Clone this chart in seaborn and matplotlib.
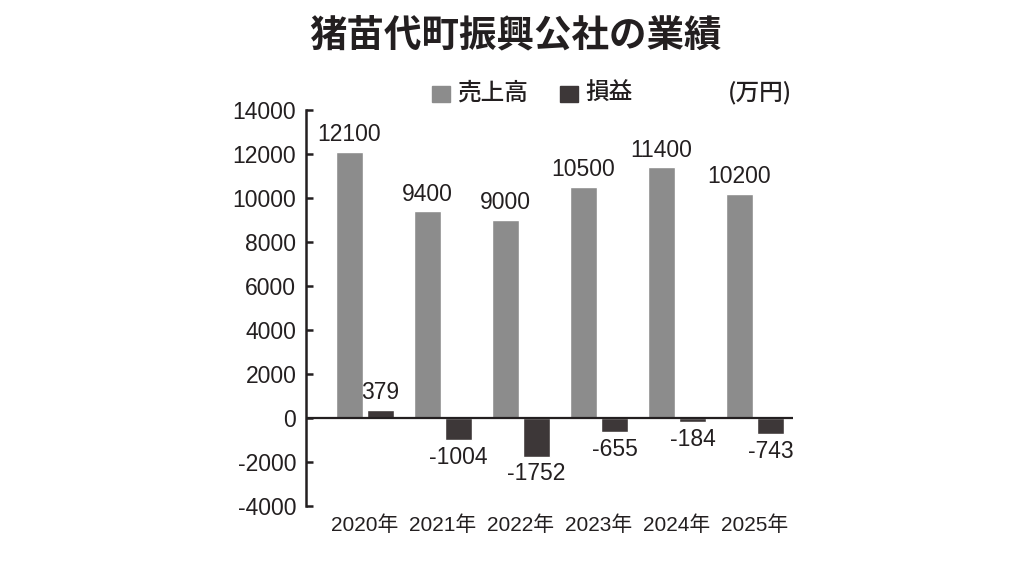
import pandas as pd
import numpy as np
import matplotlib
matplotlib.use('Agg')
import matplotlib.pyplot as plt
import seaborn as sns

# data (万円)
years = ['2020年', '2021年', '2022年', '2023年', '2024年', '2025年']
sales = [12100, 9400, 9000, 10500, 11400, 10200]
profit = [379, -1004, -1752, -655, -184, -743]
series_names = ['売上高', '損益']
y_ticks = list(range(-4000, 14001, 2000))

gray = '#8c8c8c'
dark = '#3d3738'
ink = '#231f20'

sns.set_theme(style='white')
plt.rcParams['font.family'] = ['Liberation Sans', 'Noto Sans CJK JP', 'DejaVu Sans']
plt.rcParams['axes.unicode_minus'] = False
cjk = ['Noto Sans CJK JP', 'DejaVu Sans']
num_size = 16.5

df = pd.DataFrame({
    'year': years * 2,
    'kind': [series_names[0]] * len(years) + [series_names[1]] * len(years),
    'value': sales + profit,
})

fig = plt.figure(figsize=(10.24, 5.76), dpi=100)
fig.patch.set_facecolor('white')
ax = fig.add_axes([306 / 1024, 1 - 506 / 576, 487 / 1024, (506 - 110) / 576])

sns.barplot(data=df, x='year', y='value', hue='kind', palette=[gray, dark],
            width=0.8, gap=0.14, saturation=1, legend=False, ax=ax)

for cont in ax.containers:
    ax.bar_label(cont, fmt='%d', padding=4, fontsize=num_size, color=ink)

ax.set_xlim(-0.756, 5.487)
ax.set_ylim(-4000, 14000)
ax.set_yticks(y_ticks)
ax.set_xlabel('')
ax.set_ylabel('')

for side in ['top', 'right', 'bottom']:
    ax.spines[side].set_visible(False)
ax.spines['left'].set_linewidth(1.8)
ax.spines['left'].set_color(ink)
ax.axhline(0, color=ink, lw=1.6, zorder=3)

ax.tick_params(axis='y', direction='in', length=5, width=1.8, color=ink,
               labelsize=num_size, labelcolor=ink, pad=7, left=True)
ax.tick_params(axis='x', length=0, labelsize=15, labelcolor=ink, pad=7)

# title
fig.text(515 / 1024, 1 - 35 / 576, '猪苗代町振興公社の業績', ha='center', va='center',
         fontsize=27, fontweight='bold', color=ink, family=cjk)

# legend row
leg_y = 1 - 93 / 576
for x0, col, name in [(432, gray, series_names[0]), (560, dark, series_names[1])]:
    fig.patches.append(plt.Rectangle((x0 / 1024, 1 - 102 / 576), 18 / 1024, 16 / 576,
                                     transform=fig.transFigure, color=col, figure=fig))
    fig.text((x0 + 25) / 1024, leg_y, name, ha='left', va='center', fontsize=17,
             fontweight='medium', color=ink, family=cjk)
fig.text(792 / 1024, leg_y, '(万円)', ha='right', va='center', fontsize=17,
         fontweight='medium', color=ink, family=cjk)

fig.savefig('out.png', dpi=100, facecolor='white')
